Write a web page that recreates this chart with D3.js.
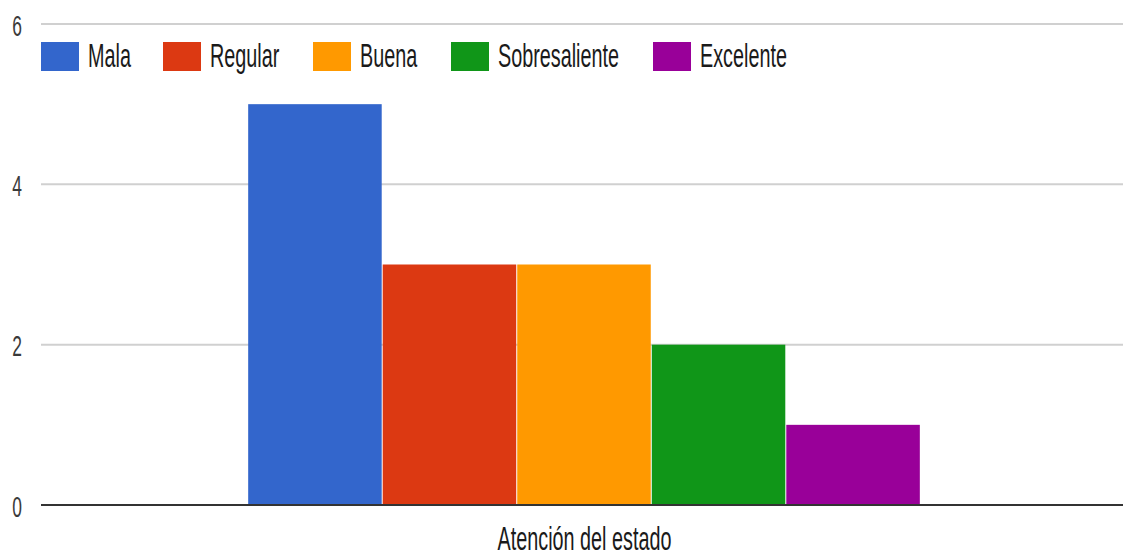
<!DOCTYPE html>
<html>
<head>
<meta charset="utf-8">
<script src="https://cdn.jsdelivr.net/npm/d3@7"></script>
<style>
  body { margin: 0; background: #fff; }
  text { font-family: Arial, "Liberation Sans", sans-serif; }
</style>
</head>
<body>
<script>
var categories = ["Atención del estado"];
var series = ["Mala", "Regular", "Buena", "Sobresaliente", "Excelente"];
var values = [5, 3, 3, 2, 1];
var colors = ["#3366cc", "#dc3912", "#ff9900", "#109618", "#990099"];
var yTicks = [0, 2, 4, 6];

var w = 1123, h = 557;
var plotLeft = 41, plotRight = 1128, plotTop = 24, plotBottom = 505;
var sx = 0.6; // text is squashed horizontally

var svg = d3.select("body").append("svg")
    .attr("width", w)
    .attr("height", h);

var y = d3.scaleLinear().domain([0, 6]).range([plotBottom, plotTop]);

var x0 = d3.scaleBand()
    .domain(categories)
    .range([plotLeft, plotRight])
    .paddingInner(0)
    .paddingOuter(0.308);

var x1 = d3.scaleBand()
    .domain(series)
    .range([0, x0.bandwidth()])
    .padding(0);

// gridlines
svg.selectAll("line.grid")
    .data(yTicks.filter(function(d) { return d !== 0; }))
    .enter()
    .append("line")
    .attr("class", "grid")
    .attr("x1", plotLeft)
    .attr("x2", w)
    .attr("y1", function(d) { return y(d); })
    .attr("y2", function(d) { return y(d); })
    .attr("stroke", "#d0d0d0")
    .attr("stroke-width", 2);

// y labels
svg.selectAll("text.ytick")
    .data(yTicks)
    .enter()
    .append("text")
    .attr("class", "ytick")
    .attr("text-anchor", "end")
    .attr("font-size", "29px")
    .attr("fill", "#3a3a3a")
    .attr("transform", function(d) {
        return "translate(22," + (y(d) + 11.5) + ") scale(" + sx + ",1)";
    })
    .text(function(d) { return d; });

// bars
var g = svg.append("g")
    .attr("transform", "translate(" + x0(categories[0]) + ",0)");

g.selectAll("rect")
    .data(values)
    .enter()
    .append("rect")
    .attr("x", function(d, i) { return x1(series[i]); })
    .attr("y", function(d) { return y(d); })
    .attr("width", x1.bandwidth() - 1)
    .attr("height", function(d) { return y(0) - y(d); })
    .attr("fill", function(d, i) { return colors[i]; });

// baseline
svg.append("line")
    .attr("x1", plotLeft)
    .attr("x2", w)
    .attr("y1", y(0))
    .attr("y2", y(0))
    .attr("stroke", "#333")
    .attr("stroke-width", 2);

// category label
svg.append("text")
    .attr("text-anchor", "middle")
    .attr("font-size", "33px")
    .attr("fill", "#1a1a1a")
    .attr("transform", "translate(" + (x0(categories[0]) + x0.bandwidth() / 2) + ",550) scale(" + sx + ",1)")
    .text(categories[0]);

// legend
var legendX = [41, 163, 313, 451, 653];
var leg = svg.selectAll("g.legend")
    .data(series)
    .enter()
    .append("g")
    .attr("class", "legend")
    .attr("transform", function(d, i) { return "translate(" + legendX[i] + ",42)"; });

leg.append("rect")
    .attr("width", 38)
    .attr("height", 29)
    .attr("fill", function(d, i) { return colors[i]; });

leg.append("text")
    .attr("font-size", "33px")
    .attr("fill", "#1a1a1a")
    .attr("transform", "translate(47,25) scale(" + sx + ",1)")
    .text(function(d) { return d; });
</script>
</body>
</html>
